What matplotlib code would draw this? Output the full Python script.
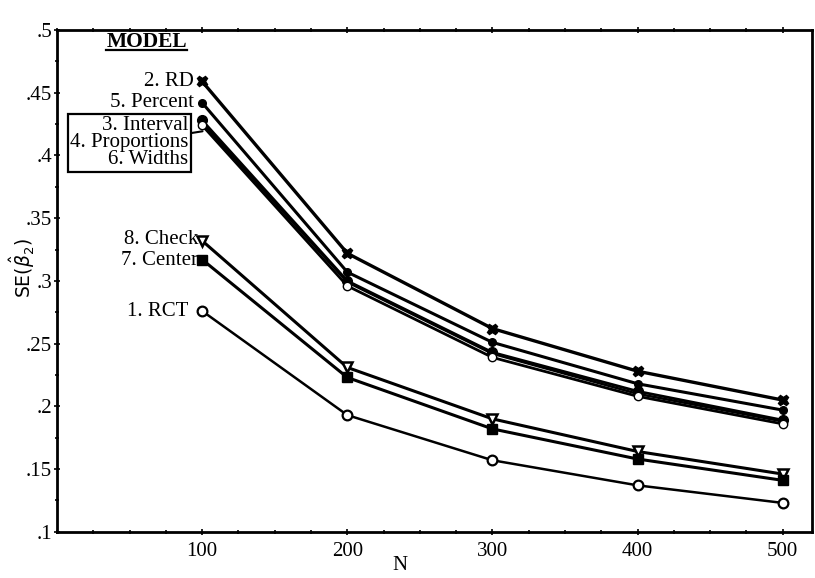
import numpy as np
import matplotlib
matplotlib.use("Agg")
import matplotlib.pyplot as plt
from matplotlib.lines import Line2D
from matplotlib.ticker import MultipleLocator, FuncFormatter

# sample sizes and SE(beta_2) for each model
n_vals = [100, 200, 300, 400, 500]
se_rct = [0.276, 0.193, 0.157, 0.137, 0.123]
se_rd = [0.459, 0.322, 0.262, 0.228, 0.205]
se_interval = [0.428, 0.300, 0.243, 0.212, 0.189]
se_proportions = [0.426, 0.299, 0.242, 0.210, 0.188]
se_percent = [0.442, 0.307, 0.251, 0.218, 0.197]
se_widths = [0.424, 0.296, 0.239, 0.208, 0.186]
se_center = [0.317, 0.223, 0.182, 0.158, 0.141]
se_check = [0.332, 0.231, 0.190, 0.164, 0.146]

x_ticks = [100, 200, 300, 400, 500]
y_ticks = [0.1, 0.15, 0.2, 0.25, 0.3, 0.35, 0.4, 0.45, 0.5]

serif = "Liberation Serif"
plt.rcParams["font.family"] = serif

fig = plt.figure(figsize=(8.15, 5.78), dpi=100)
ax = fig.add_axes([0.07, 0.08, 0.926, 0.868])

series = [
    (se_rd, dict(marker="X", mfc="black", ms=7.5, lw=2.4)),
    (se_percent, dict(marker="o", mfc="black", ms=5.5, lw=2.2)),
    (se_interval, dict(marker="o", mfc="black", ms=7, lw=2.0)),
    (se_proportions, dict(marker="^", mfc="black", ms=6, lw=1.8)),
    (se_widths, dict(marker="o", mfc="white", ms=6, lw=2.0)),
    (se_check, dict(marker="v", mfc="white", ms=7, lw=2.2, mew=1.8)),
    (se_center, dict(marker="s", mfc="black", ms=6.5, lw=2.2)),
    (se_rct, dict(marker="o", mfc="white", ms=7, lw=1.8, mew=1.6)),
]
for ys, kw in series:
    ax.plot(n_vals, ys, color="black", mec="black", **kw)

ax.set_xlim(0, 520)
ax.set_ylim(0.1, 0.5)
ax.set_xticks(x_ticks)
ax.set_yticks(y_ticks)
ax.xaxis.set_minor_locator(MultipleLocator(25))
ax.yaxis.set_minor_locator(MultipleLocator(0.025))
ax.yaxis.set_major_formatter(FuncFormatter(lambda v, p: ("%g" % v).lstrip("0")))
ax.tick_params(which="both", direction="inout", top=True, labelsize=15, width=1.2)
ax.tick_params(which="major", length=5)
ax.tick_params(which="minor", length=3)
ax.tick_params(axis="x", pad=5)
ax.tick_params(axis="y", pad=1)
for s in ax.spines.values():
    s.set_linewidth(2)

fig.text(400 / 815, 1 - 566 / 578, "N", ha="center", va="center", fontsize=15)
fig.text(22 / 815, 1 - 268 / 578, r"SE($\hat{\beta}_2$)", rotation=90,
         ha="center", va="center", fontsize=13.5, family="DejaVu Sans")

lab = dict(textcoords="offset points", ha="right", va="center", fontsize=15)
ax.annotate("2. RD", xy=(100, se_rd[0]), xytext=(-6, 0), **lab)
ax.annotate("5. Percent", xy=(100, se_percent[0]), xytext=(-6, 0), **lab)
ax.annotate("8. Check", xy=(100, se_check[0]), xytext=(-3, 1), **lab)
ax.annotate("7. Center", xy=(100, se_center[0]), xytext=(-3, -1), **lab)
ax.annotate("1. RCT", xy=(100, se_rct[0]), xytext=(-10, 0), **lab)
ax.annotate("3. Interval\n4. Proportions\n6. Widths", xy=(104, se_proportions[0] - 0.006),
            xytext=(-14, -9), textcoords="offset points", ha="right", va="center",
            multialignment="right", fontsize=15, linespacing=0.85,
            bbox=dict(boxstyle="square,pad=0.12", fc="white", ec="black", lw=1.6),
            arrowprops=dict(arrowstyle="-", color="black", lw=1.5, shrinkA=0, shrinkB=4))

t = fig.text(187 / 815, 1 - 42 / 578, "MODEL", ha="right", va="center",
             fontsize=15.5, fontweight="bold")
fig.canvas.draw()
bb = t.get_window_extent().transformed(fig.transFigure.inverted())
fig.add_artist(Line2D([bb.x0, bb.x1], [bb.y0 + 0.003, bb.y0 + 0.003],
                      color="black", lw=1.6, transform=fig.transFigure))

fig.savefig("out.png", dpi=100)
